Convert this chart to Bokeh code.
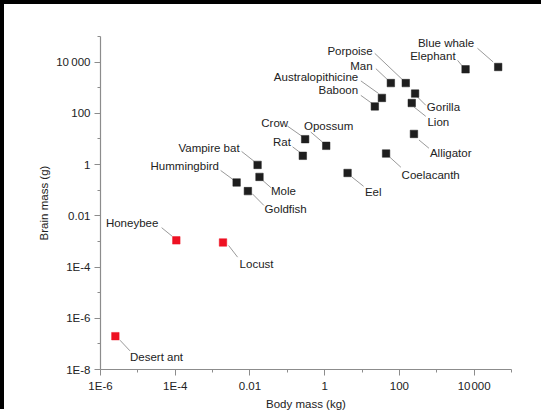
from bokeh.plotting import figure
from bokeh.models import ColumnDataSource, FixedTicker, CustomJSTickFormatter, Spacer
from bokeh.layouts import column, row
from bokeh.embed import file_html
from bokeh.resources import INLINE
from bokeh.core.properties import value

# ---- data ----
animals = ["Blue whale", "Elephant", "Porpoise", "Man", "Australopithicine", "Baboon",
           "Gorilla", "Lion", "Alligator", "Crow", "Opossum", "Rat", "Vampire bat",
           "Hummingbird", "Mole", "Goldfish", "Coelacanth", "Eel", "Honeybee",
           "Locust", "Desert ant"]
body_mass_kg = [44000, 5900, 148, 59, 34, 22, 263, 214, 245, 0.30, 1.1, 0.26, 0.016,
                0.0044, 0.018, 0.0088, 44, 4.1, 1.07e-4, 1.9e-3, 2.5e-6]
brain_mass_g = [6450, 5240, 1520, 1520, 400, 187, 590, 253, 15.7, 9.8, 5.4, 2.2, 0.97,
                0.20, 0.33, 0.092, 2.7, 0.47, 1.1e-3, 9.1e-4, 2.0e-7]
insects = ["Honeybee", "Locust", "Desert ant"]

x_major = [1e-6, 1e-4, 1e-2, 1, 1e2, 1e4]
x_minor = [1e-5, 1e-3, 1e-1, 10, 1e3, 1e5]
x_tick_labels = ["1E-6", "1E-4", "0.01", "1", "100", "10\u200a000"]
y_major = [1e-8, 1e-6, 1e-4, 1e-2, 1, 1e2, 1e4]
y_minor = [1e-7, 1e-5, 1e-3, 1e-1, 10, 1e3, 1e5]
y_tick_labels = ["1E-8", "1E-6", "1E-4", "0.01", "1", "100", "10\u2009000"]

# ---- label layout (screen-pixel offsets from each point: align, text dx/dy, leader start, leader end) ----
label_layout = {
    "Blue whale":        ("right", -24, -24, (-20.7, -18.7), (-5, -5)),
    "Elephant":          ("right", -10, -13, (-8, -9), (-3.5, -3.5)),
    "Porpoise":          ("right", -33, -32.5, (-31, -29.7), (-3.3, -3.4)),
    "Man":               ("right", -18.3, -17.5, (-15, -14.4), (-3.3, -3.4)),
    "Australopithicine": ("right", -23.7, -21, (-21, -17), (-3.3, -4.4)),
    "Baboon":            ("right", -16.7, -16, (-14, -11), (-3.3, -3.3)),
    "Gorilla":           ("left", 11.7, 13.5, (2.4, 3.4), (10.7, 11.7)),
    "Lion":              ("left", 15.7, 18.5, (2.3, 4), (14, 13.3)),
    "Alligator":         ("left", 16, 19.3, (5, 6), (15, 14.3)),
    "Crow":              ("right", -17, -16.6, (-17.7, -13.1), (-3, -2.8)),
    "Opossum":           ("left", -22.2, -19.5, (-15.5, -13.8), (-3.8, -3.8)),
    "Rat":               ("right", -12, -13.5, (-10.3, -9), (-2.7, -3.3)),
    "Vampire bat":       ("right", -18, -17, (-16, -13.5), (-3.3, -3.5)),
    "Hummingbird":       ("right", -17.7, -16.5, (-16, -12), (-3, -2.5)),
    "Mole":              ("left", 11.5, 14.5, (3.2, 3.5), (11.5, 10.8)),
    "Goldfish":          ("left", 16.7, 18.3, (4.4, 2.6), (16, 14.3)),
    "Coelacanth":        ("left", 15.5, 21, (3.8, 3.7), (14.8, 13.7)),
    "Eel":               ("left", 17.3, 18.8, (4.3, 4), (16, 13.3)),
    "Honeybee":          ("right", -18, -17.5, (-14.7, -12.7), (-4, -4)),
    "Locust":            ("left", 16.6, 22, (5.6, 3), (14.6, 14.7)),
    "Desert ant":        ("left", 14.6, 21, (4.6, 4), (14.6, 14.7)),
}

FRAME_W, FRAME_H = 411, 333
X_RANGE, Y_RANGE = (1e-6, 1e5), (1e-8, 1e5)
ppd_x = FRAME_W / 11.0   # pixels per decade
ppd_y = FRAME_H / 13.0

def shift(x, y, dx, dy):
    return x * 10 ** (dx / ppd_x), y * 10 ** (-dy / ppd_y)

FONT = "Liberation Sans"
TXT = "#222222"
AXC = "#8c8c8c"
BAND = 4

p = figure(x_axis_type="log", y_axis_type="log", x_range=X_RANGE, y_range=Y_RANGE,
           frame_width=FRAME_W, frame_height=FRAME_H,
           min_border_left=100 - BAND, min_border_right=30,
           min_border_top=36 - BAND, min_border_bottom=40,
           output_backend="svg", toolbar_location=None)
p.outline_line_color = None
p.xgrid.visible = False
p.ygrid.visible = False
p.background_fill_color = "white"
p.border_fill_color = "white"

def fmt(tick_values, tick_labels):
    return CustomJSTickFormatter(args=dict(tv=tick_values, tl=tick_labels), code="""
        let best = 0, bd = Infinity;
        for (let i = 0; i < tv.length; i++) {
            const d = Math.abs(Math.log10(tick) - Math.log10(tv[i]));
            if (d < bd) { bd = d; best = i; }
        }
        return tl[best];
    """)

p.xaxis.ticker = FixedTicker(ticks=x_major, minor_ticks=x_minor)
p.yaxis.ticker = FixedTicker(ticks=y_major, minor_ticks=y_minor)
p.xaxis.formatter = fmt(x_major, x_tick_labels)
p.yaxis.formatter = fmt(y_major, y_tick_labels)
p.xaxis.axis_label = "Body mass (kg)"
p.yaxis.axis_label = "Brain mass (g)"
for ax in (p.xaxis, p.yaxis):
    ax.axis_line_color = AXC
    ax.axis_line_width = 1.2
    ax.major_tick_line_color = AXC
    ax.minor_tick_line_color = AXC
    ax.major_tick_out = 6
    ax.major_tick_in = 0
    ax.minor_tick_out = 3
    ax.minor_tick_in = 0
    ax.major_label_text_font = FONT
    ax.major_label_text_font_size = "11.5px"
    ax.major_label_text_color = TXT
    ax.major_label_standoff = 4
    ax.axis_label_text_font = FONT
    ax.axis_label_text_font_size = "11.5px"
    ax.axis_label_text_font_style = "normal"
    ax.axis_label_text_color = TXT
    ax.axis_label_standoff = 3

# leader lines and labels
lx0, ly0, lx1, ly1 = [], [], [], []
R = dict(x=[], y=[], t=[])
L = dict(x=[], y=[], t=[])
for name, bx, by in zip(animals, body_mass_kg, brain_mass_g):
    align, tdx, tdy, a, b = label_layout[name]
    x0, y0 = shift(bx, by, *a)
    x1, y1 = shift(bx, by, *b)
    lx0.append(x0); ly0.append(y0); lx1.append(x1); ly1.append(y1)
    tx, ty = shift(bx, by, tdx, tdy)
    d = R if align == "right" else L
    d["x"].append(tx); d["y"].append(ty); d["t"].append(name)

p.segment(x0=lx0, y0=ly0, x1=lx1, y1=ly1, line_color="#9a9a9a", line_width=1)

for d, align in ((R, "right"), (L, "left")):
    p.text(x="x", y="y", text="t", source=ColumnDataSource(d),
           text_font=value(FONT), text_font_size="11.5px", text_color=TXT,
           text_align=align, text_baseline="middle")

colors = ["#ee1122" if a in insects else "#1e1e1e" for a in animals]
src = ColumnDataSource(dict(x=body_mass_kg, y=brain_mass_g, c=colors))
p.scatter(x="x", y="y", source=src, marker="square", size=7.5,
          fill_color="c", line_color="c", line_width=0.5)

# thin black bands along the top and left edges of the picture
top_band = Spacer(width=541, height=BAND, margin=0,
                  styles={"background-color": "black"})
left_band = Spacer(width=BAND, height=405, margin=0,
                   styles={"background-color": "black"})
root = column(top_band, row(left_band, p, spacing=0), spacing=0)

open("out.html", "w").write(file_html(root, INLINE))
